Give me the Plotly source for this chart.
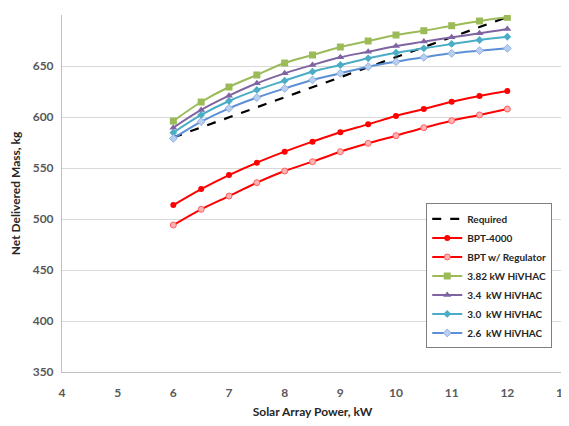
import plotly.graph_objects as go

power = [6, 6.5, 7, 7.5, 8, 8.5, 9, 9.5, 10, 10.5, 11, 11.5, 12]

required_x = [6, 12]
required_y = [580, 698]

bpt4000 = [513.7, 529.4, 543.1, 555.2, 566.0, 575.8, 585.0, 592.8, 601.0, 607.8, 615.0, 620.6, 625.5]
bpt_reg = [494.1, 509.5, 522.5, 535.6, 547.0, 556.2, 566.0, 574.2, 581.7, 589.5, 596.4, 602.0, 607.8]
hivhac_382 = [596.0, 614.7, 629.4, 641.2, 652.9, 660.8, 668.6, 674.5, 680.4, 684.6, 689.5, 694.1, 697.7]
hivhac_34 = [589.5, 606.9, 620.9, 633.0, 642.8, 651.0, 658.5, 664.0, 669.6, 673.9, 678.1, 682.0, 686.3]
hivhac_30 = [584.6, 602.0, 615.7, 626.5, 635.6, 644.4, 651.0, 657.5, 663.0, 667.3, 671.6, 675.5, 678.7]
hivhac_26 = [579.0, 595.4, 608.5, 619.0, 628.0, 636.3, 642.8, 649.3, 654.2, 658.5, 662.4, 665.0, 667.3]

x_ticks = [4, 5, 6, 7, 8, 9, 10, 11, 12, 13]
y_ticks = [350, 400, 450, 500, 550, 600, 650, 700]

FONT = "Lato"

fig = go.Figure()

fig.add_trace(go.Scatter(x=required_x, y=required_y, mode="lines", name="<b>Required</b>",
                         line=dict(color="black", width=2.2, dash="dash")))

fig.add_trace(go.Scatter(x=power, y=bpt4000, mode="lines+markers", name="<b>BPT-4000</b>",
                         line=dict(color="#FF0000", width=2, shape="spline"),
                         marker=dict(symbol="circle", size=6, color="#FF0000")))
fig.add_trace(go.Scatter(x=power, y=bpt_reg, mode="lines+markers", name="<b>BPT w/ Regulator</b>",
                         line=dict(color="#FF0000", width=2, shape="spline"),
                         marker=dict(symbol="circle", size=6, color="#FFB3B3",
                                     line=dict(color="#FF6060", width=1))))
fig.add_trace(go.Scatter(x=power, y=hivhac_382, mode="lines+markers", name="<b>3.82 kW HiVHAC</b>",
                         line=dict(color="#9BBB59", width=2, shape="spline"),
                         marker=dict(symbol="square", size=7, color="#9BBB59")))
fig.add_trace(go.Scatter(x=power, y=hivhac_34, mode="lines+markers", name="<b>3.4  kW HiVHAC</b>",
                         line=dict(color="#8064A2", width=2, shape="spline"),
                         marker=dict(symbol="triangle-up", size=7, color="#8064A2")))
fig.add_trace(go.Scatter(x=power, y=hivhac_30, mode="lines+markers", name="<b>3.0  kW HiVHAC</b>",
                         line=dict(color="#4BACC6", width=2, shape="spline"),
                         marker=dict(symbol="diamond", size=6, color="#4BACC6")))
fig.add_trace(go.Scatter(x=power, y=hivhac_26, mode="lines+markers", name="<b>2.6  kW HiVHAC</b>",
                         line=dict(color="#5B8FD6", width=2, shape="spline"),
                         marker=dict(symbol="diamond", size=6, color="#B9CFEF",
                                     line=dict(color="#8FB0E3", width=1))))

# page body has an 8px default margin, so the figure is drawn 8px smaller
fig.update_layout(
    width=561, height=418,
    margin=dict(l=54, r=6, t=7, b=54),
    paper_bgcolor="white", plot_bgcolor="white",
    font=dict(family=FONT, color="#595959", size=12),
    showlegend=True,
    legend=dict(x=0.727, y=0.066, xanchor="left", yanchor="bottom",
                bgcolor="white", bordercolor="#7F7F7F", borderwidth=1,
                font=dict(family=FONT, size=10, color="#262626"),
                tracegroupgap=0, itemwidth=30),
)

fig.update_xaxes(range=[4, 13], tickvals=x_ticks, ticktext=[f"<b>{v}</b>" for v in x_ticks],
                 showgrid=False, showline=True, linecolor="#BFBFBF", linewidth=1,
                 ticks="outside", ticklen=10, tickcolor="rgba(0,0,0,0)", zeroline=False,
                 ticklabeloverflow="allow", automargin=False,
                 title=dict(text="<b>Solar Array Power, kW</b>", font=dict(size=12, color="#262626"), standoff=8))
fig.update_yaxes(range=[350, 700], tickvals=y_ticks, ticktext=[f"<b>{v}</b>" for v in y_ticks],
                 showgrid=True, gridcolor="#D9D9D9", gridwidth=1,
                 showline=True, linecolor="#BFBFBF", linewidth=1,
                 ticks="outside", ticklen=5, tickcolor="rgba(0,0,0,0)", zeroline=False,
                 title=dict(text="<b>Net Delivered Mass, kg</b>", font=dict(size=12, color="#262626"), standoff=10))

fig.write_html("out.html")
